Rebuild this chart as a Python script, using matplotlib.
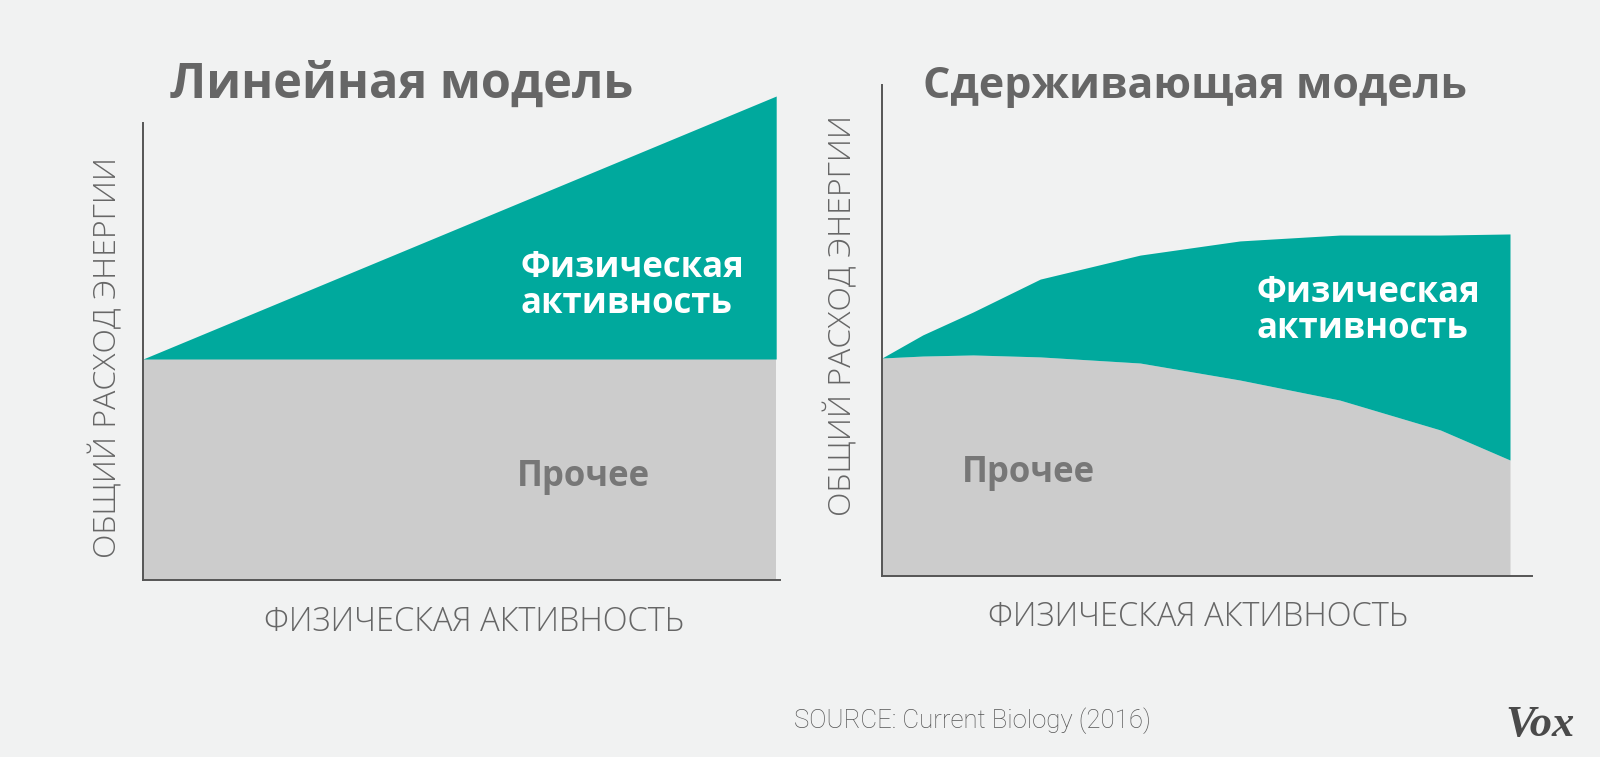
"""
Vox-style two-panel chart: linear vs constrained energy expenditure model.
"""
import matplotlib
matplotlib.use("Agg")
import matplotlib.pyplot as plt

# ===================
#  DATA
# ===================

# Linear model: activity 0..1, energy relative to "other" baseline
lin_x = [0.0, 1.0]
lin_other = [1.0, 1.0]
lin_total = [1.0, 2.19]

# Constrained model
con_x = [0.0, 0.065, 0.145, 0.252, 0.411, 0.570, 0.729, 0.889, 1.0]
con_total = [1.0, 1.106, 1.211, 1.362, 1.472, 1.537, 1.564, 1.564, 1.569]
con_other = [1.0, 1.009, 1.014, 1.005, 0.977, 0.899, 0.807, 0.670, 0.532]

titles = ["Линейная модель", "Сдерживающая модель"]
ylabel = "ОБЩИЙ РАСХОД ЭНЕРГИИ"
xlabel = "ФИЗИЧЕСКАЯ АКТИВНОСТЬ"
label_pa = "Физическая\nактивность"
label_other = "Прочее"
source = "SOURCE: Current Biology (2016)"

# ===================
#  STYLE
# ===================
BG = "#f1f2f2"
TEAL = "#00a99d"
GREY = "#cccccc"
TXT = "#666666"
AXC = "#555555"
W, H = 1600, 757

plt.rcParams["font.family"] = ["Open Sans", "DejaVu Sans"]

fig = plt.figure(figsize=(W / 100, H / 100), dpi=100, facecolor=BG)


def px_axes(x0, y0, x1, y1):
    """axes from pixel box (top-left origin)"""
    return fig.add_axes([x0 / W, 1 - y1 / H, (x1 - x0) / W, (y1 - y0) / H])


def fx(x):
    return x / W


def fy(y):
    return 1 - y / H


def style(ax):
    ax.set_facecolor("none")
    for s in ("top", "right"):
        ax.spines[s].set_visible(False)
    for s in ("left", "bottom"):
        ax.spines[s].set_color(AXC)
        ax.spines[s].set_linewidth(1.4)
        ax.spines[s].set_zorder(5)
    ax.set_xticks([])
    ax.set_yticks([])


# ── Left: linear model ──────────────────────────────
ax1 = px_axes(143, 123, 780, 580)
style(ax1)
ax1.set_xlim(0, 1.006)
ax1.set_ylim(0, 457 / 221)
ax1.fill_between(lin_x, 0, lin_other, color=GREY, lw=0, clip_on=False)
ax1.fill_between(lin_x, lin_other, lin_total, color=TEAL, lw=0, clip_on=False)

# ── Right: constrained model ───────────────────────
ax2 = px_axes(882, 85, 1532, 576)
style(ax2)
ax2.set_xlim(0, 650 / 628)
ax2.set_ylim(0, 491 / 218)
ax2.fill_between(con_x, 0, con_other, color=GREY, lw=0)
ax2.fill_between(con_x, con_other, con_total, color=TEAL, lw=0)

# ── Text ───────────────────────────────────────────
fig.text(fx(170), fy(98), titles[0], fontsize=35, fontweight="bold",
         color=TXT, ha="left", va="baseline")
fig.text(fx(923), fy(98), titles[1], fontsize=31, fontweight="bold",
         color=TXT, ha="left", va="baseline")

fig.text(fx(107), fy(357), ylabel, fontsize=23, fontweight="light",
         color=TXT, rotation=90, ha="center", va="center")
fig.text(fx(842), fy(316), ylabel, fontsize=23, fontweight="light",
         color=TXT, rotation=90, ha="center", va="center")

fig.text(fx(474), fy(622), xlabel, fontsize=23.5, fontweight="light",
         color=TXT, ha="center", va="center")
fig.text(fx(1198), fy(617), xlabel, fontsize=23.5, fontweight="light",
         color=TXT, ha="center", va="center")

fig.text(fx(520), fy(286), label_pa, fontsize=25, fontweight="bold",
         color="white", ha="left", va="center", linespacing=1.0)
fig.text(fx(1257), fy(311), label_pa, fontsize=25, fontweight="bold",
         color="white", ha="left", va="center", linespacing=1.0)

fig.text(fx(517), fy(477), label_other, fontsize=25, fontweight="bold",
         color="#777777", ha="left", va="center")
fig.text(fx(962), fy(473), label_other, fontsize=25, fontweight="bold",
         color="#777777", ha="left", va="center")

fig.text(fx(794), fy(721), source, fontsize=18.5, fontweight="light",
         color="#555555", family=["Roboto", "DejaVu Sans"],
         ha="left", va="center")
fig.text(fx(1540), fy(725), "Vox", fontsize=32, fontweight="bold",
         style="italic", color="#4a4a4a",
         family=["Liberation Serif", "DejaVu Serif"],
         ha="center", va="center")

fig.savefig("out.png", dpi=100, facecolor=BG)
